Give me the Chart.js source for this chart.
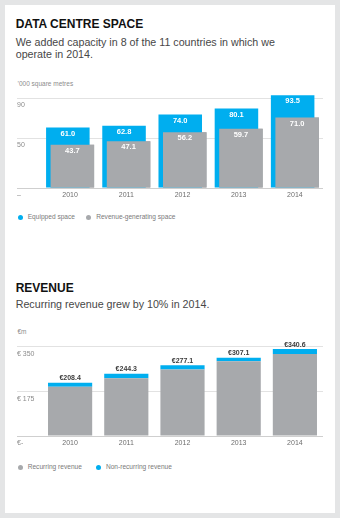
<!DOCTYPE html>
<html>
<head>
<meta charset="utf-8">
<script src="https://cdn.jsdelivr.net/npm/chart.js@4/dist/chart.umd.min.js"></script>
<style>
  html, body { margin: 0; padding: 0; }
  body {
    width: 340px; height: 518px; position: relative; overflow: hidden;
    background: #e4e5e6;
    font-family: "Liberation Sans", Arial, sans-serif;
  }
  .card { position: absolute; left: 5px; top: 5px; width: 330px; height: 508px; background: #fff; }
  .t { position: absolute; white-space: nowrap; }
  .h { left: 15.7px; font-weight: bold; font-size: 12px; line-height: 12px; color: #111; }
  .s { left: 15.7px; font-size: 10.7px; line-height: 12.3px; color: #474747; }
  .u { left: 17.5px; font-size: 6.5px; line-height: 8px; color: #8c8c8c; }
  canvas { position: absolute; left: 0; }
  .lg { position: absolute; left: 17.5px; height: 8px; display: flex; gap: 11px;
        font-size: 6.6px; line-height: 8px; color: #7a7a7a; white-space: nowrap; }
  .lg .item { display: inline-flex; align-items: center; }
  .lg i { display: inline-block; width: 5px; height: 5px; border-radius: 50%; margin-right: 5.2px; }
</style>
</head>
<body>
<div class="card"></div>

<div class="t h" style="top:17.8px">DATA CENTRE SPACE</div>
<div class="t s" style="top:35.5px">We added capacity in 8 of the 11 countries in which we<br>operate in 2014.</div>
<div class="t u" style="top:80px">’000 square metres</div>
<canvas id="space" width="340" height="135" style="top:70px"></canvas>
<div class="lg" id="spaceLegend" style="top:213.3px"></div>

<div class="t h" style="top:281.8px">REVENUE</div>
<div class="t s" style="top:297.9px">Recurring revenue grew by 10% in 2014.</div>
<div class="t u" style="top:328.3px">€m</div>
<canvas id="revenue" width="340" height="128" style="top:325px"></canvas>
<div class="lg" id="revenueLegend" style="top:463.3px; gap:13.8px"></div>

<script>
// Years shown on both charts
const years = ['2010', '2011', '2012', '2013', '2014'];

// Data centre space, '000 square metres
const equippedSpace = [61.0, 62.8, 74.0, 80.1, 93.5];
const revenueGeneratingSpace = [43.7, 47.1, 56.2, 59.7, 71.0];
const spaceTicks = [0, 50, 90];
const spaceTickLabels = ['–', '50', '90'];

// Revenue, € million
const recurringRevenue = [193.4, 226.8, 261.1, 292.8, 321.8];
const nonRecurringRevenue = [15.0, 17.5, 16.0, 14.3, 18.8];
const revenueTicks = [0, 175, 350];
const revenueTickLabels = ['€-', '€ 175', '€ 350'];

const BLUE = '#00aeef';
const GREY = '#a7a9ac';
const FONT = '"Liberation Sans", Arial, sans-serif';

Chart.defaults.font.family = FONT;

const gridColor = (ctx) => (ctx.tick && ctx.tick.value === 0) ? '#cfcfcf' : '#e2e2e2';

function yAxis(tickValues, tickLabels, max, labelOffset) {
  return {
    min: 0,
    max: max,
    afterBuildTicks: (scale) => { scale.ticks = tickValues.map(v => ({ value: v })); },
    afterFit: (scale) => { scale.width = 25; },
    ticks: {
      callback: (value, index) => tickLabels[index],
      crossAlign: 'far',
      labelOffset: labelOffset,
      color: '#8c8c8c',
      font: { size: 7 }
    },
    grid: { color: gridColor, tickLength: 25, lineWidth: 1 },
    border: { display: false }
  };
}

function xAxis(stacked) {
  return {
    stacked: stacked,
    afterFit: (scale) => { scale.height = 12; },
    grid: { display: false, drawTicks: false },
    border: { display: false },
    ticks: { padding: 2.5, color: '#6e6e6e', font: { size: 7 } }
  };
}

// Revenue-generating bars overlap the equipped bars, so they are painted again on top
const greyOnTop = {
  id: 'greyOnTop',
  afterDatasetsDraw(chart) {
    chart.getDatasetMeta(1).controller.draw();
  }
};

// White values printed just inside the top of each bar
const barValues = {
  id: 'barValues',
  afterDatasetsDraw(chart) {
    const ctx = chart.ctx;
    ctx.save();
    ctx.font = 'bold 7.5px ' + FONT;
    ctx.fillStyle = '#ffffff';
    ctx.textAlign = 'center';
    ctx.textBaseline = 'middle';
    chart.data.datasets.forEach((ds, di) => {
      chart.getDatasetMeta(di).data.forEach((el, i) => {
        ctx.fillText(ds.data[i].toFixed(1), el.x, el.y + 6);
      });
    });
    ctx.restore();
  }
};

// Total revenue printed above each stack
const stackTotals = {
  id: 'stackTotals',
  afterDatasetsDraw(chart) {
    const ctx = chart.ctx;
    const topBars = chart.getDatasetMeta(chart.data.datasets.length - 1).data;
    ctx.save();
    ctx.font = 'bold 7px ' + FONT;
    ctx.fillStyle = '#3c3c3c';
    ctx.textAlign = 'center';
    ctx.textBaseline = 'middle';
    years.forEach((year, i) => {
      const total = recurringRevenue[i] + nonRecurringRevenue[i];
      ctx.fillText('€' + total.toFixed(1), topBars[i].x, topBars[i].y - 4.5);
    });
    ctx.restore();
  }
};

function htmlLegend(chart, id) {
  const box = document.getElementById(id);
  chart.data.datasets.forEach(ds => {
    const item = document.createElement('span');
    item.className = 'item';
    const dot = document.createElement('i');
    dot.style.background = ds.backgroundColor;
    item.appendChild(dot);
    item.appendChild(document.createTextNode(ds.label));
    box.appendChild(item);
  });
}

const spaceChart = new Chart(document.getElementById('space'), {
  type: 'bar',
  data: {
    labels: years,
    datasets: [
      { label: 'Equipped space', data: equippedSpace, backgroundColor: BLUE },
      { label: 'Revenue-generating space', data: revenueGeneratingSpace, backgroundColor: GREY }
    ]
  },
  options: {
    responsive: false,
    animation: false,
    events: [],
    layout: { padding: { left: 17, right: 17, top: 18.8, bottom: 5 } },
    datasets: { bar: { categoryPercentage: 0.1607, barPercentage: 9.64, borderWidth: 0 } },
    plugins: { legend: { display: false }, tooltip: { enabled: false } },
    scales: {
      x: xAxis(false),
      y: yAxis(spaceTicks, spaceTickLabels, 100, 6.8)
    }
  },
  plugins: [greyOnTop, barValues]
});
htmlLegend(spaceChart, 'spaceLegend');

const revenueChart = new Chart(document.getElementById('revenue'), {
  type: 'bar',
  data: {
    labels: years,
    datasets: [
      { label: 'Recurring revenue', data: recurringRevenue, backgroundColor: GREY },
      { label: 'Non-recurring revenue', data: nonRecurringRevenue, backgroundColor: BLUE }
    ]
  },
  options: {
    responsive: false,
    animation: false,
    events: [],
    layout: { padding: { left: 17, right: 17, top: 21.7, bottom: 5 } },
    datasets: { bar: { categoryPercentage: 0.786, barPercentage: 1, borderWidth: 0 } },
    plugins: { legend: { display: false }, tooltip: { enabled: false } },
    scales: {
      x: xAxis(true),
      y: Object.assign(yAxis(revenueTicks, revenueTickLabels, 350, 7.5), { stacked: true })
    }
  },
  plugins: [stackTotals]
});
htmlLegend(revenueChart, 'revenueLegend');
</script>
</body>
</html>
